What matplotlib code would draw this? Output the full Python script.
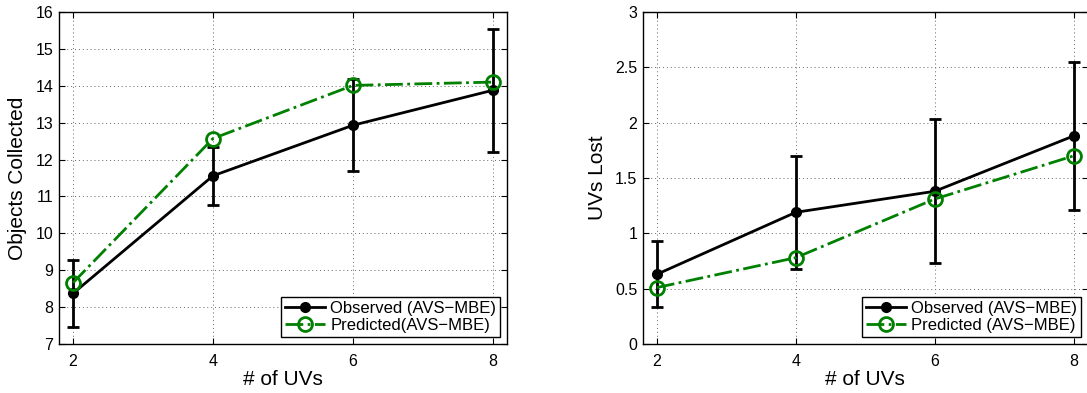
import matplotlib
matplotlib.use("Agg")
import matplotlib.pyplot as plt
from matplotlib.lines import Line2D
from matplotlib.ticker import FixedLocator

plt.rcParams['font.family'] = ['Liberation Sans', 'DejaVu Sans']

num_uvs = [2, 4, 6, 8]

# Objects collected
obj_observed = [8.37, 11.56, 12.93, 13.88]
obj_observed_err = [0.91, 0.79, 1.25, 1.67]
obj_predicted = [8.66, 12.57, 14.01, 14.10]

# UVs lost
lost_observed = [0.63, 1.19, 1.38, 1.88]
lost_observed_err = [0.30, 0.51, 0.65, 0.67]
lost_predicted = [0.51, 0.78, 1.31, 1.70]

obj_yticks = [7, 8, 9, 10, 11, 12, 13, 14, 15, 16]
lost_yticks = [0, 0.5, 1, 1.5, 2, 2.5, 3]
lost_yticklabels = ['0', '0.5', '1', '1.5', '2', '2.5', '3']

GREEN = (0.0, 0.5, 0.0)

fig = plt.figure(figsize=(10.87, 3.93), dpi=100)
W, H = 1087.0, 393.0
ax1 = fig.add_axes([59 / W, 1 - 344 / H, 448 / W, 332 / H])
ax2 = fig.add_axes([643 / W, 1 - 344 / H, 444.5 / W, 332 / H])


def draw(ax, obs, err, pred, ylabel, yticks, yticklabels, ylim, pred_label):
    ax.errorbar(num_uvs, obs, yerr=err, color='black', linewidth=2,
                elinewidth=2, capsize=4, capthick=2, marker='o',
                markersize=7, markerfacecolor='black', zorder=3)
    ax.plot(num_uvs, pred, color=GREEN, linewidth=2, linestyle='-.',
            marker='o', markersize=10, markerfacecolor='none',
            markeredgewidth=2, markeredgecolor=GREEN, zorder=4)
    ax.set_xlim(1.8, 8.2)
    ax.set_ylim(*ylim)
    ax.xaxis.set_major_locator(FixedLocator(num_uvs))
    ax.set_yticks(yticks)
    ax.set_yticklabels(yticklabels)
    ax.tick_params(direction='in', top=True, right=True, labelsize=11.5,
                   length=4, width=0.8)
    ax.tick_params(axis='x', pad=7)
    ax.tick_params(axis='y', pad=4)
    ax.grid(True, linestyle=(0, (1, 3)), color='#666666', linewidth=0.7)
    for s in ax.spines.values():
        s.set_linewidth(1.0)
    ax.set_xlabel('# of UVs', fontsize=15)
    ax.set_ylabel(ylabel, fontsize=15)
    ax.xaxis.set_label_coords(0.5, -0.078)
    handles = [
        Line2D([], [], color='black', linewidth=2, marker='o', markersize=7,
               markerfacecolor='black'),
        Line2D([], [], color=GREEN, linewidth=2, linestyle='-.', marker='o',
               markersize=10, markerfacecolor='none', markeredgewidth=2),
    ]
    leg = ax.legend(handles, ['Observed (AVS\u2212MBE)', pred_label],
                    loc='lower right', fontsize=12, fancybox=False,
                    framealpha=1, edgecolor='black', borderaxespad=0.4,
                    handlelength=2.4, borderpad=0.25, labelspacing=0.15,
                    handletextpad=0.3)
    leg.get_frame().set_linewidth(1.0)


draw(ax1, obj_observed, obj_observed_err, obj_predicted, 'Objects Collected',
     obj_yticks, [str(t) for t in obj_yticks], (7, 16),
     'Predicted(AVS\u2212MBE)')
ax1.yaxis.set_label_coords(-0.071, 0.5)

draw(ax2, lost_observed, lost_observed_err, lost_predicted, 'UVs Lost',
     lost_yticks, lost_yticklabels, (0, 3), 'Predicted (AVS\u2212MBE)')
ax2.yaxis.set_label_coords(-0.080, 0.5)

fig.savefig('out.png', dpi=100)
